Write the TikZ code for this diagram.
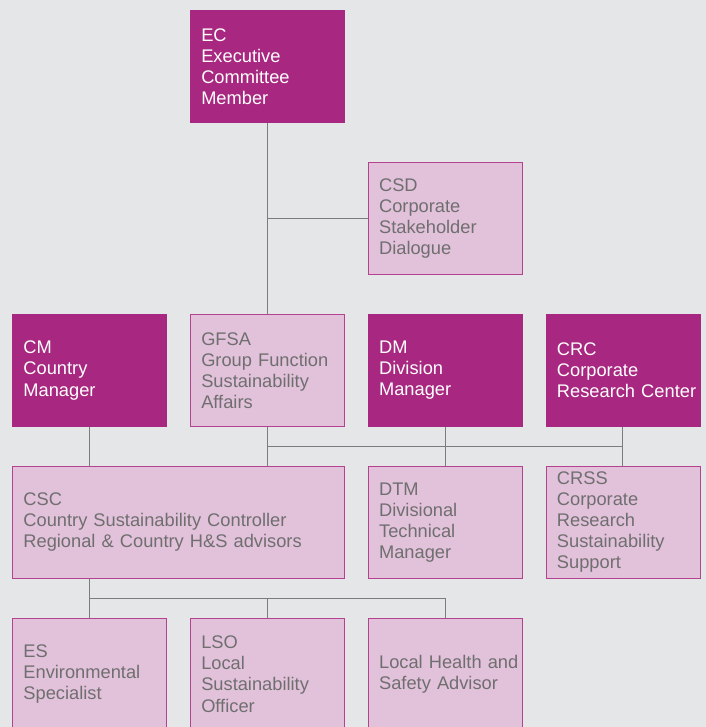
\documentclass[tikz,border=0pt]{standalone}
\usepackage{fontspec}
\setmainfont{Liberation Sans}
\usetikzlibrary{positioning,calc}
\definecolor{orgbg}{HTML}{E5E6E8}
\definecolor{orgdark}{HTML}{A82881}
\definecolor{orglight}{HTML}{E2C1DA}
\definecolor{orgedge}{HTML}{B4428F}
\definecolor{orgtext}{HTML}{6F6F6F}
\definecolor{orgline}{HTML}{7C7C7C}
\tikzset{
  darkbox/.style={draw=orgdark, fill=orgdark, text=white, line width=0.6pt, align=left, inner xsep=0.275cm, text width=3.3cm, minimum height=2.8cm, font=\fontsize{13}{15}\selectfont},
  lightbox/.style={darkbox, draw=orgedge, fill=orglight, text=orgtext},
  link/.style={draw=orgline, line width=0.7pt}
}

\begin{document}
\begin{tikzpicture}[node distance=0.975cm and 0.575cm]
  \fill[orgbg] (0,0) rectangle (17.65,-18.175);
  \clip (0,0) rectangle (17.65,-18.175);

  % second row
  \node[darkbox, anchor=north west] (cm) at (0.3,-7.85) {CM\\Country\\Manager};
  \node[lightbox, right=of cm] (gfsa) {GFSA\\Group Function\\Sustainability\\Affairs};
  \node[darkbox, right=of gfsa] (dm) {DM\\Division\\Manager};
  \node[darkbox, right=of dm] (crc) {CRC\\Corporate\\\mbox{Research Center}};

  % top
  \node[lightbox, above=of dm] (csd) {CSD\\Corporate\\Stakeholder\\Dialogue};
  \node[darkbox, above left=of csd.north west, anchor=south east] (ec) {EC\\Executive\\Committee\\Member};

  % third row
  \node[lightbox, below=of cm.south west, anchor=north west, text width=7.75cm] (csc) {CSC\\Country Sustainability Controller\\Regional \& Country H\&S advisors};
  \node[lightbox, below=of dm] (dtm) {DTM\\Divisional\\Technical\\Manager};
  \node[lightbox, below=of crc] (crss) {CRSS\\Corporate\\Research\\Sustainability\\Support};

  % bottom row
  \node[lightbox, below=of csc.south west, anchor=north west] (es) {ES\\Environmental\\Specialist};
  \node[lightbox, right=of es] (lso) {LSO\\Local\\Sustainability\\Officer};
  \node[lightbox, right=of lso] (lhsa) {\mbox{Local Health and}\\Safety Advisor};

  % connectors
  \draw[link] (ec.south) -- (gfsa.north);
  \draw[link] (csd.west) -- (csd.west -| ec.south);
  \draw[link] (cm.south) -- (cm.south |- csc.north);
  \draw[link] (gfsa.south) -- (gfsa.south |- csc.north);
  \coordinate (bus) at ($(gfsa.south)!0.5!(gfsa.south |- csc.north)$);
  \draw[link] (bus) -- (bus -| crc.south);
  \draw[link] (dm.south) -- (dtm.north);
  \draw[link] (crc.south) -- (crss.north);

  \draw[link] (csc.south -| es.north) -- (es.north);
  \coordinate (subbus) at ($(csc.south -| es.north)!0.5!(es.north)$);
  \draw[link] (subbus) -- (subbus -| lhsa.north) -- (lhsa.north);
  \draw[link] (subbus -| lso.north) -- (lso.north);
\end{tikzpicture}
\end{document}
